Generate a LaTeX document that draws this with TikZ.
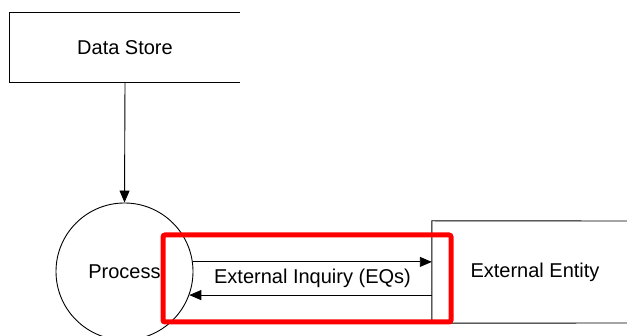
\documentclass[tikz,border=0pt]{standalone}
\usepackage{fontspec}
\setmainfont{Liberation Sans}
\usetikzlibrary{arrows.meta}
\begin{document}
\begin{tikzpicture}[x=1pt,y=-1pt,
  every node/.style={font=\fontsize{20}{24}\selectfont, inner sep=0pt},
  line/.style={line width=0.9pt, black},
  flow/.style={line, -{Triangle[length=12pt,width=10pt]}},
  highlight/.style={draw=red, line width=5pt, rounded corners=2pt}]
  \useasboundingbox (0,0) rectangle (627,336);

  % data store: box open on the right
  \node[minimum width=230pt, minimum height=69pt] (ds) at (125,47.5) {Data Store};
  \draw[line] (ds.north east) -- (ds.north west) -- (ds.south west) -- (ds.south east);

  % process bubble
  \node[circle, draw, line width=0.9pt, minimum size=137pt] (proc) at (124.5,271.5) {Process};

  % external entity: box running off to the right
  \node[minimum width=206pt, minimum height=102pt] (ent) at (535,272) {External Entity};
  \coordinate (entTR) at (627,221);
  \coordinate (entBR) at (627,323);
  \draw[line] (entTR) -- (ent.north west) -- (ent.south west) -- (entBR);

  % flows
  \draw[flow] (ds.south) -- (proc.north);
  \draw[flow] (proc.8.8) -- (ent.west |- proc.8.8);
  \draw[flow] (ent.west |- proc.-20) -- (proc.-20);
  \node (eq) at (312.5,278) {External Inquiry (EQs)};

  % highlighted inquiry
  \node[highlight, minimum width=288pt, minimum height=87pt] (hl) at (307,278.5) {};
\end{tikzpicture}
\end{document}
